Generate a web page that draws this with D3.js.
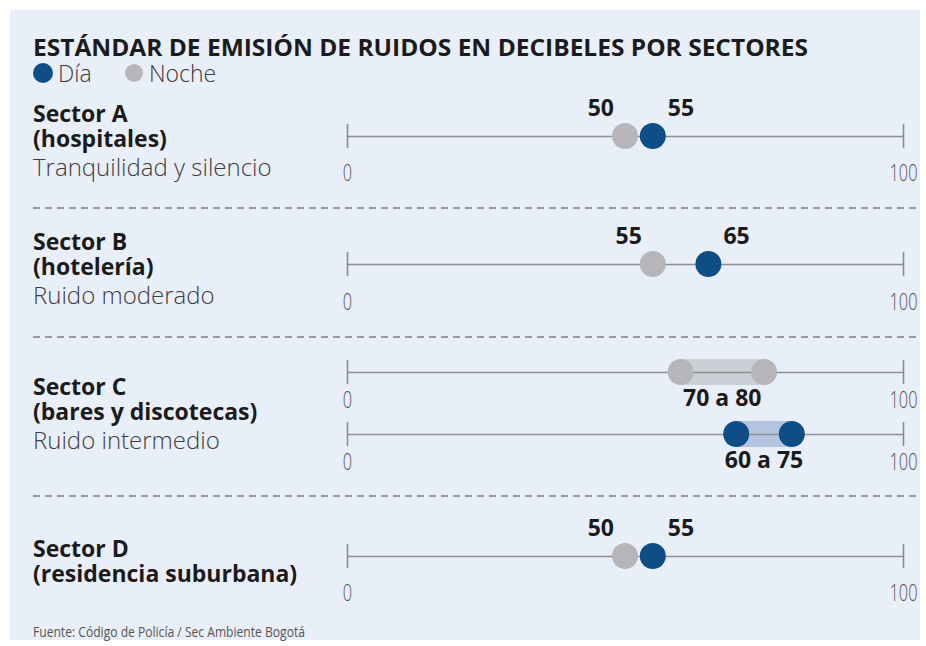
<!DOCTYPE html>
<html>
<head>
<meta charset="utf-8">
<script src="https://cdn.jsdelivr.net/npm/d3@7"></script>
<style>
	body{margin:0;background:#fff;}
	svg text{font-family:"Open Sans",sans-serif;}
</style>
</head>
<body>
<div id="chart"></div>
<script>
// datos
var titulo = "ESTÁNDAR DE EMISIÓN DE RUIDOS EN DECIBELES POR SECTORES";
var series = ["Día", "Noche"];
var sectores = ["Sector A", "Sector B", "Sector C", "Sector D"];
var subtitulos = ["(hospitales)", "(hotelería)", "(bares y discotecas)", "(residencia suburbana)"];
var descripciones = ["Tranquilidad y silencio", "Ruido moderado", "Ruido intermedio", ""];
var noche = [[50], [55], [60, 75], [50]];
var dia = [[55], [65], [70, 80], [55]];
var etiquetasNoche = ["50", "55", "70 a 80", "50"];
var etiquetasDia = ["55", "65", "60 a 75", "55"];
var extremos = [0, 100];
var fuente = "Fuente: Código de Policía / Sec Ambiente Bogotá";

var cfg = {
	width: 926, height: 646,
	azul: "#0e4d85", gris: "#b6b6ba",
	bandaAzul: "#b4c4de", bandaGris: "#cbcfd6",
	r: 13
};

// estrecha un texto para imitar la fuente condensada del original
function condensar(sel, f){
	sel.each(function(){
		var len = this.getComputedTextLength();
		d3.select(this).attr("textLength", len * f).attr("lengthAdjust", "spacingAndGlyphs");
	});
}

var svg = d3.select("#chart").append("svg").attr("width", cfg.width).attr("height", cfg.height);

svg.append("rect").attr("x", 10).attr("y", 10).attr("width", 910).attr("height", 630).style("fill", "#e9eff8");

svg.append("text").attr("x", 33).attr("y", 56).text(titulo)
	.style("font-size", "24px").style("font-weight", 700).style("fill", "#1b1b1b")
	.attr("textLength", 775).attr("lengthAdjust", "spacingAndGlyphs");

// leyenda
var leyX = [43, 134];
series.forEach(function(s, i){
	svg.append("circle").attr("cx", leyX[i]).attr("cy", 73).attr("r", i == 0 ? 10 : 9)
		.style("fill", i == 0 ? cfg.azul : cfg.gris);
	svg.append("text").attr("x", leyX[i] + 15).attr("y", 82).text(s)
		.style("font-size", "23px").style("font-weight", 300).style("fill", "#3a3a3a");
});

var x = d3.scaleLinear().domain(extremos).range([347, 903]);

// filas: posicion y del eje, desplazamiento de etiquetas
var filas = [
	{sector: 0, y: 136, valores: [noche[0], dia[0]], lab: 45, textoY: 122},
	{sector: 1, y: 264, valores: [noche[1], dia[1]], lab: 46, textoY: 250},
	{sector: 2, y: 372, valores: [noche[2]], serie: 1, lab: 36, textoY: 395},
	{sector: 2, y: 434, valores: [dia[2]], serie: 0, lab: 36, textoY: null},
	{sector: 3, y: 556, valores: [noche[3], dia[3]], lab: 45, textoY: 557}
];

var divisores = [208, 337, 496];
divisores.forEach(function(y){
	svg.append("line").attr("x1", 33).attr("x2", 918).attr("y1", y).attr("y2", y)
		.style("stroke", "#7a7d82").style("stroke-width", 1.5).style("stroke-dasharray", "7,5");
});

filas.forEach(function(f){
	var g = svg.append("g");
	if(f.textoY != null){
		g.append("text").attr("x", 33).attr("y", f.textoY).text(sectores[f.sector])
			.style("font-size", "23px").style("font-weight", 700).style("fill", "#1b1b1b");
		g.append("text").attr("x", 33).attr("y", f.textoY + 25).text(subtitulos[f.sector])
			.style("font-size", "23px").style("font-weight", 700).style("fill", "#1b1b1b");
		g.append("text").attr("x", 33).attr("y", f.textoY + 54).text(descripciones[f.sector])
			.style("font-size", "24px").style("font-weight", 300).style("fill", "#3d3d3d");
	}

	var rango = f.valores.length == 1;
	if(rango){
		var v = f.valores[0];
		g.append("rect").attr("x", x(v[0])).attr("y", f.y - cfg.r).attr("width", x(v[1]) - x(v[0])).attr("height", 2 * cfg.r)
			.style("fill", f.serie == 0 ? cfg.bandaAzul : cfg.bandaGris);
	}

	var eje = d3.axisBottom(x).tickValues(extremos).tickSizeInner(24).tickSizeOuter(0).tickPadding(0);
	var ax = g.append("g").attr("transform", "translate(0," + f.y + ")").call(eje);
	ax.select(".domain").style("stroke", "#8a8d92").style("stroke-width", 1.6);
	ax.selectAll(".tick line").attr("y1", -12).attr("y2", 12).style("stroke", "#8a8d92").style("stroke-width", 1.6);
	ax.selectAll(".tick text").attr("y", f.lab).attr("dy", 0)
		.style("font-family", "'Open Sans',sans-serif")
		.style("font-size", "24px").style("font-weight", 300).style("fill", "#555")
		.call(condensar, 0.68);

	if(rango){
		var v = f.valores[0];
		var col = f.serie == 0 ? cfg.azul : cfg.gris;
		g.selectAll("circle.p").data(v).enter().append("circle").attr("class", "p")
			.attr("cx", function(d){ return x(d); }).attr("cy", f.y).attr("r", cfg.r).style("fill", col);
		g.append("text").attr("x", (x(v[0]) + x(v[1])) / 2).attr("y", f.y + 34).attr("text-anchor", "middle")
			.text(f.serie == 0 ? etiquetasDia[f.sector] : etiquetasNoche[f.sector])
			.style("font-size", "23px").style("font-weight", 700).style("fill", "#1b1b1b");
	}else{
		var n = f.valores[0][0], d = f.valores[1][0];
		g.append("circle").attr("cx", x(n)).attr("cy", f.y).attr("r", cfg.r).style("fill", cfg.gris);
		g.append("circle").attr("cx", x(d)).attr("cy", f.y).attr("r", cfg.r).style("fill", cfg.azul);
		g.append("text").attr("x", x(n) - 11).attr("y", f.y - 20).attr("text-anchor", "end").text(etiquetasNoche[f.sector])
			.style("font-size", "23px").style("font-weight", 700).style("fill", "#1b1b1b");
		g.append("text").attr("x", x(d) + 15).attr("y", f.y - 20).text(etiquetasDia[f.sector])
			.style("font-size", "23px").style("font-weight", 700).style("fill", "#1b1b1b");
	}
});

svg.append("text").attr("x", 33).attr("y", 637).text(fuente)
	.style("font-size", "14px").style("fill", "#555")
	.attr("textLength", 272).attr("lengthAdjust", "spacingAndGlyphs");
</script>
</body>
</html>
